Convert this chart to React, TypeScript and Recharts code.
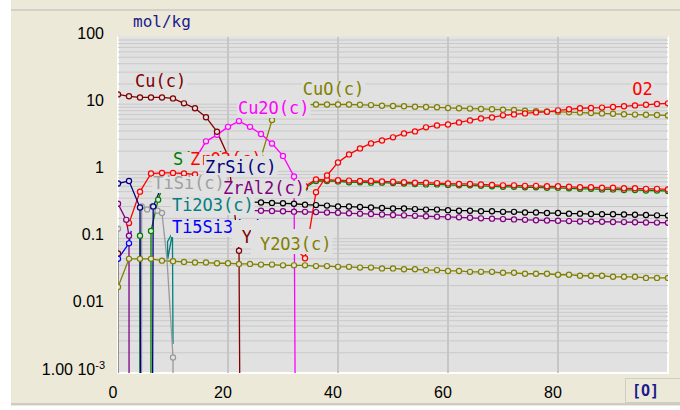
import React from 'react';
import { LineChart, Line, XAxis, YAxis, ReferenceLine, ReferenceArea, CartesianGrid } from 'recharts';

type P = { x: number; y: number; m?: number };
// Z marks an amount of zero (far below the axis), as HSC draws it
const Z = 1e-30;

const xTicks = [0, 20, 40, 60, 80];
const yTicks = [0.001, 0.01, 0.1, 1, 10, 100];
const yTickText: Record<string, string> = { '100': '100', '10': '10', '1': '1', '0.1': '0.1', '0.01': '0.01' };

const cuC: P[] = [
  { x: 0, y: 14 }, { x: 2, y: 13.1 }, { x: 4, y: 12.6 }, { x: 6, y: 12.6 }, { x: 8, y: 12.6 }, { x: 10, y: 12.2 },
  { x: 12, y: 10.3 }, { x: 14, y: 8.7 }, { x: 16, y: 6.4 }, { x: 18, y: 3.9 }, { x: 20, y: 1.7 }, { x: 22, y: 0.066 }, { x: 24, y: Z },
];
const cu2oC: P[] = [
  { x: 14, y: 1.5 }, { x: 16, y: 2.8 }, { x: 18, y: 3.5 }, { x: 20, y: 4.6 }, { x: 22, y: 5.6 }, { x: 24, y: 4.6 },
  { x: 26, y: 3.6 }, { x: 28, y: 2.6 }, { x: 30, y: 1.7 }, { x: 32, y: 0.84 }, { x: 34, y: Z },
];
const cuoC: P[] = [
  { x: 26, y: 1.6 }, { x: 28, y: 5.8 }, { x: 30, y: 8.5 }, { x: 32, y: 9.5 }, { x: 34, y: 9.8 }, { x: 36, y: 9.9 },
  { x: 38, y: 9.9 }, { x: 40, y: 9.9 }, { x: 42, y: 9.9 }, { x: 44, y: 9.8 }, { x: 46, y: 9.7 }, { x: 48, y: 9.5 },
  { x: 50, y: 9.4 }, { x: 52, y: 9.3 }, { x: 54, y: 9.2 }, { x: 56, y: 9.1 }, { x: 58, y: 9.0 }, { x: 60, y: 8.8 },
  { x: 62, y: 8.7 }, { x: 64, y: 8.6 }, { x: 66, y: 8.5 }, { x: 68, y: 8.4 }, { x: 70, y: 8.3 }, { x: 72, y: 8.2 },
  { x: 74, y: 8.0 }, { x: 76, y: 7.9 }, { x: 78, y: 7.8 }, { x: 80, y: 7.7 }, { x: 82, y: 7.6 }, { x: 84, y: 7.5 },
  { x: 86, y: 7.4 }, { x: 88, y: 7.3 }, { x: 90, y: 7.2 }, { x: 92, y: 7.1 }, { x: 94, y: 7.0 }, { x: 96, y: 6.95 },
  { x: 98, y: 6.9 }, { x: 100, y: 6.8 },
];
const o2: P[] = [
  { x: 28, y: 0.075 }, { x: 30, y: 0.078 }, { x: 32, y: 0.075 }, { x: 34, y: 0.051 }, { x: 36, y: 0.49 }, { x: 38, y: 0.87 },
  { x: 40, y: 1.36 }, { x: 42, y: 1.79 }, { x: 44, y: 2.2 }, { x: 46, y: 2.61 }, { x: 48, y: 2.89 }, { x: 50, y: 3.21 },
  { x: 52, y: 3.68 }, { x: 54, y: 3.94 }, { x: 56, y: 4.52 }, { x: 58, y: 4.84 }, { x: 60, y: 5.0 }, { x: 62, y: 5.36 },
  { x: 64, y: 5.74 }, { x: 66, y: 6.15 }, { x: 68, y: 6.36 }, { x: 70, y: 6.82 }, { x: 72, y: 7.05 }, { x: 74, y: 7.3 },
  { x: 76, y: 7.55 }, { x: 78, y: 7.7 }, { x: 80, y: 8.1 }, { x: 82, y: 8.4 }, { x: 84, y: 8.7 }, { x: 86, y: 8.8 },
  { x: 88, y: 8.9 }, { x: 90, y: 9.1 }, { x: 92, y: 9.3 }, { x: 94, y: 9.6 }, { x: 96, y: 9.8 }, { x: 98, y: 10.1 },
  { x: 100, y: 10.3 },
];
const zro2C: P[] = [
  { x: 2, y: 0.17 }, { x: 4, y: 0.5 }, { x: 6, y: 0.93 }, { x: 8, y: 0.95 }, { x: 10, y: 0.95 },
  { x: 12, y: 0.93 }, { x: 14, y: 0.9 }, { x: 16, y: 0.62 }, { x: 18, y: 0.61 }, { x: 20, y: 0.61 }, { x: 22, y: 0.6 },
  { x: 24, y: 0.6 }, { x: 26, y: 0.6 }, { x: 28, y: 0.6 }, { x: 30, y: 0.6 }, { x: 32, y: 0.6 }, { x: 34, y: 0.6 },
  { x: 36, y: 0.76 }, { x: 38, y: 0.75 }, { x: 40, y: 0.74 }, { x: 42, y: 0.73 }, { x: 44, y: 0.72 }, { x: 46, y: 0.72 },
  { x: 48, y: 0.71 }, { x: 50, y: 0.7 }, { x: 52, y: 0.69 }, { x: 54, y: 0.68 }, { x: 56, y: 0.68 }, { x: 58, y: 0.67 },
  { x: 60, y: 0.66 }, { x: 62, y: 0.65 }, { x: 64, y: 0.65 }, { x: 66, y: 0.64 }, { x: 68, y: 0.63 }, { x: 70, y: 0.62 },
  { x: 72, y: 0.62 }, { x: 74, y: 0.61 }, { x: 76, y: 0.61 }, { x: 78, y: 0.6 }, { x: 80, y: 0.6 }, { x: 82, y: 0.59 },
  { x: 84, y: 0.58 }, { x: 86, y: 0.58 }, { x: 88, y: 0.57 }, { x: 90, y: 0.57 }, { x: 92, y: 0.56 }, { x: 94, y: 0.56 },
  { x: 96, y: 0.55 }, { x: 98, y: 0.55 }, { x: 100, y: 0.54 },
];
const sio2C: P[] = [
  { x: 3.9, y: Z }, { x: 4, y: 0.11 }, { x: 4.1, y: Z }, { x: 5.9, y: Z }, { x: 6, y: 0.13 }, { x: 7.3, y: 0.38 },
  { x: 8, y: 0.55, m: 0 }, { x: 10, y: 0.57 }, { x: 14, y: 0.57 }, { x: 20, y: 0.57 }, { x: 26, y: 0.57 }, { x: 34, y: 0.57 },
  { x: 36, y: 0.72 }, { x: 38, y: 0.72 }, { x: 40, y: 0.71 }, { x: 42, y: 0.69 }, { x: 44, y: 0.69 }, { x: 46, y: 0.68 },
  { x: 48, y: 0.68 }, { x: 50, y: 0.67 }, { x: 52, y: 0.66 }, { x: 54, y: 0.65 }, { x: 56, y: 0.64 }, { x: 58, y: 0.64 },
  { x: 60, y: 0.63 }, { x: 62, y: 0.62 }, { x: 64, y: 0.62 }, { x: 66, y: 0.61 }, { x: 68, y: 0.6 }, { x: 70, y: 0.59 },
  { x: 72, y: 0.59 }, { x: 74, y: 0.58 }, { x: 76, y: 0.58 }, { x: 78, y: 0.57 }, { x: 80, y: 0.57 }, { x: 82, y: 0.56 },
  { x: 84, y: 0.55 }, { x: 86, y: 0.55 }, { x: 88, y: 0.54 }, { x: 90, y: 0.54 }, { x: 92, y: 0.53 }, { x: 94, y: 0.53 },
  { x: 96, y: 0.52 }, { x: 98, y: 0.52 }, { x: 100, y: 0.51 },
];
const zrsiC: P[] = [
  { x: 0, y: 0.66 }, { x: 2, y: 0.72 }, { x: 4, y: 0.29 }, { x: 5, y: Z }, { x: 5.2, y: Z }, { x: 6.4, y: 0.3 },
  { x: 8, y: 0.62 }, { x: 10, y: 0.6 }, { x: 14, y: 0.6 }, { x: 18, y: 0.58 }, { x: 20, y: 0.55 },
];
const tisiC: P[] = [
  { x: 0, y: 0.14 }, { x: 0.6, y: Z }, { x: 4, y: Z }, { x: 4.3, y: 0.3 }, { x: 5.3, y: 0.27 }, { x: 6.2, y: 0.3 },
  { x: 7.2, y: 0.26 }, { x: 8, y: 0.24 }, { x: 8.5, y: 0.1, m: 0 }, { x: 8.9, y: 0.05, m: 0 }, { x: 9.2, y: 0.02, m: 0 },
  { x: 9.6, y: 0.006, m: 0 }, { x: 10, y: 0.0017 }, { x: 10.3, y: Z },
];
const ti2o3C: P[] = [
  { x: 10.5, y: 0.15, m: 0 }, { x: 9, y: 0.09, m: 0 }, { x: 9.05, y: 0.05, m: 0 }, { x: 9.9, y: 0.12, m: 0 }, { x: 10, y: 0.0027, m: 0 },
];
const ti5si3C: P[] = [{ x: 0, y: 0.05 }, { x: 2, y: 0.085 }, { x: 2.4, y: 0.13, m: 0 }];
const zral2Left: P[] = [{ x: 0, y: 0.33 }, { x: 1.5, y: 0.19 }, { x: 2, y: 0.11 }, { x: 2.15, y: Z }];
const zral2C: P[] = [
  { x: 20, y: 0.27 }, { x: 22, y: 0.265 }, { x: 24, y: 0.262 }, { x: 26, y: 0.26 }, { x: 28, y: 0.258 }, { x: 30, y: 0.255 },
  { x: 32, y: 0.252 }, { x: 34, y: 0.25 }, { x: 36, y: 0.248 }, { x: 38, y: 0.245 }, { x: 40, y: 0.242 }, { x: 42, y: 0.238 },
  { x: 44, y: 0.235 }, { x: 46, y: 0.232 }, { x: 48, y: 0.228 }, { x: 50, y: 0.225 }, { x: 52, y: 0.222 }, { x: 54, y: 0.218 },
  { x: 56, y: 0.215 }, { x: 58, y: 0.212 }, { x: 60, y: 0.21 }, { x: 62, y: 0.207 }, { x: 64, y: 0.204 }, { x: 66, y: 0.2 },
  { x: 68, y: 0.198 }, { x: 70, y: 0.195 }, { x: 72, y: 0.193 }, { x: 74, y: 0.19 }, { x: 76, y: 0.188 }, { x: 78, y: 0.186 },
  { x: 80, y: 0.184 }, { x: 82, y: 0.182 }, { x: 84, y: 0.18 }, { x: 86, y: 0.179 }, { x: 88, y: 0.178 }, { x: 90, y: 0.177 },
  { x: 92, y: 0.176 }, { x: 94, y: 0.175 }, { x: 96, y: 0.174 }, { x: 98, y: 0.173 }, { x: 100, y: 0.172 },
];
const blackSeries: P[] = [
  { x: 20, y: 0.36 }, { x: 22, y: 0.355 }, { x: 24, y: 0.35 }, { x: 26, y: 0.345 }, { x: 28, y: 0.34 }, { x: 30, y: 0.335 },
  { x: 32, y: 0.33 }, { x: 34, y: 0.32 }, { x: 36, y: 0.315 }, { x: 38, y: 0.31 }, { x: 40, y: 0.3 }, { x: 42, y: 0.3 },
  { x: 44, y: 0.295 }, { x: 46, y: 0.29 }, { x: 48, y: 0.285 }, { x: 50, y: 0.28 }, { x: 52, y: 0.28 }, { x: 54, y: 0.275 },
  { x: 56, y: 0.27 }, { x: 58, y: 0.27 }, { x: 60, y: 0.265 }, { x: 62, y: 0.26 }, { x: 64, y: 0.26 }, { x: 66, y: 0.255 },
  { x: 68, y: 0.255 }, { x: 70, y: 0.25 }, { x: 72, y: 0.25 }, { x: 74, y: 0.245 }, { x: 76, y: 0.245 }, { x: 78, y: 0.24 },
  { x: 80, y: 0.24 }, { x: 82, y: 0.235 }, { x: 84, y: 0.235 }, { x: 86, y: 0.232 }, { x: 88, y: 0.23 }, { x: 90, y: 0.23 },
  { x: 92, y: 0.228 }, { x: 94, y: 0.226 }, { x: 96, y: 0.224 }, { x: 98, y: 0.222 }, { x: 100, y: 0.22 },
];
const yC: P[] = [{ x: 0, y: 0.06 }, { x: 0.3, y: Z }];
const y2o3C: P[] = [
  { x: 0, y: 0.019 }, { x: 2, y: 0.05 }, { x: 4, y: 0.05 }, { x: 6, y: 0.05 }, { x: 8, y: 0.047 }, { x: 10, y: 0.046 },
  { x: 12, y: 0.045 }, { x: 14, y: 0.044 }, { x: 16, y: 0.044 }, { x: 18, y: 0.043 }, { x: 20, y: 0.043 }, { x: 22, y: 0.042 },
  { x: 24, y: 0.042 }, { x: 26, y: 0.041 }, { x: 28, y: 0.041 }, { x: 30, y: 0.04 }, { x: 32, y: 0.04 }, { x: 34, y: 0.04 },
  { x: 36, y: 0.039 }, { x: 38, y: 0.039 }, { x: 40, y: 0.038 }, { x: 42, y: 0.038 }, { x: 44, y: 0.037 }, { x: 46, y: 0.037 },
  { x: 48, y: 0.036 }, { x: 50, y: 0.036 }, { x: 52, y: 0.035 }, { x: 54, y: 0.035 }, { x: 56, y: 0.034 }, { x: 58, y: 0.034 },
  { x: 60, y: 0.033 }, { x: 62, y: 0.033 }, { x: 64, y: 0.032 }, { x: 66, y: 0.032 }, { x: 68, y: 0.032 }, { x: 70, y: 0.031 },
  { x: 72, y: 0.031 }, { x: 74, y: 0.03 }, { x: 76, y: 0.03 }, { x: 78, y: 0.03 }, { x: 80, y: 0.029 }, { x: 82, y: 0.029 },
  { x: 84, y: 0.028 }, { x: 86, y: 0.028 }, { x: 88, y: 0.028 }, { x: 90, y: 0.027 }, { x: 92, y: 0.027 }, { x: 94, y: 0.027 },
  { x: 96, y: 0.026 }, { x: 98, y: 0.026 }, { x: 100, y: 0.026 },
];

const series: { key: string; color: string; data: P[] }[] = [
  { key: 'y2o3', color: '#808000', data: y2o3C },
  { key: 'black', color: '#000000', data: blackSeries },
  { key: 'zral2', color: '#800080', data: zral2C },
  { key: 'sio2', color: '#008000', data: sio2C },
  { key: 'zro2', color: '#ff0000', data: zro2C },
  { key: 'zral2l', color: '#800080', data: zral2Left },
  { key: 'cuo', color: '#808000', data: cuoC },
  { key: 'o2', color: '#ff0000', data: o2 },
  { key: 'cu2o', color: '#ff00ff', data: cu2oC },
  { key: 'cu', color: '#800000', data: cuC },
  { key: 'y', color: '#800000', data: yC },
  { key: 'ti5si3', color: '#0000ff', data: ti5si3C },
  { key: 'ti2o3', color: '#008080', data: ti2o3C },
  { key: 'tisi', color: '#999999', data: tisiC },
  { key: 'zrsi', color: '#000080', data: zrsiC },
];

// curve labels (data coordinates), in drawing order: later ones cover earlier ones
const labels: { text: string; x: number; y: number; color: string }[] = [
  { text: 'SiO2(c)', x: 10.0, y: 1.245, color: '#008000' },
  { text: 'ZrO2(c)', x: 13.1, y: 1.245, color: '#ff0000' },
  { text: 'ZrSi(c)', x: 15.8, y: 0.947, color: '#000080' },
  { text: 'TiSi(c)', x: 6.4, y: 0.547, color: '#a0a0a0' },
  { text: 'ZrAl2(c)', x: 19.1, y: 0.461, color: '#800080' },
  { text: 'Ti2O3(c)', x: 9.8, y: 0.257, color: '#008080' },
  { text: 'Ti5Si3(c)', x: 9.8, y: 0.121, color: '#0000ff' },
  { text: 'Y(c)', x: 22.5, y: 0.086, color: '#800000' },
  { text: 'Y2O3(c)', x: 25.8, y: 0.0676, color: '#808000' },
  { text: 'Cu(c)', x: 3.1, y: 18.0, color: '#800000' },
  { text: 'Cu2O(c)', x: 21.8, y: 7.15, color: '#ff00ff' },
  { text: 'CuO(c)', x: 33.6, y: 13.7, color: '#808000' },
  { text: 'O2', x: 93.5, y: 13.7, color: '#ff0000' },
];
// extra margin of the opaque box behind some labels [left, top]
const labelPad: Record<string, [number, number]> = {
  'ZrO2(c)': [6, 0],
  'ZrSi(c)': [1, 4],
  'Y(c)': [10, 10],
  'Y2O3(c)': [9, 8],
};

const BG = '#e1e1e1';
const MONO = '"DejaVu Sans Mono", monospace';
const SANS = '"Liberation Sans", Arial, sans-serif';

// chart frame (same as the margins/axis sizes given to LineChart below)
const W = 680, H = 410, PL = 118, PR = 12, PT = 37, XH = 37;
const X_DOM: [number, number] = [0, 100];
const Y_DOM: [number, number] = [0.001, 100];
const toPx = (x: number) => PL + ((x - X_DOM[0]) / (X_DOM[1] - X_DOM[0])) * (W - PL - PR);
const toPy = (v: number) =>
  PT + ((Math.log10(Y_DOM[1]) - Math.log10(v)) / (Math.log10(Y_DOM[1]) - Math.log10(Y_DOM[0]))) * (H - PT - XH);

const gridY: number[] = [];
[0.001, 0.01, 0.1, 1, 10].forEach((d) => {
  for (let k = 2; k <= 10; k++) gridY.push(d * k);
});

const makeDot = (color: string) => (props: any) => {
  const { cx, cy, payload, index } = props;
  if (!payload || cx == null || cy == null || payload.y < 0.001 || payload.m === 0) {
    return <g key={`e${index}`} />;
  }
  return <circle key={`d${index}`} cx={cx} cy={cy} r={2.6} fill={BG} stroke={color} strokeWidth={1.2} />;
};

const YTick = (props: any) => {
  const v = props.payload.value;
  const y = props.y + 1.5;
  if (v === 0.001) {
    return (
      <text x={105} y={y} textAnchor="end" fontSize={16} fontFamily={SANS} fill="#000">
        1.00 10
        <tspan fontSize={11} dy={-6}>-3</tspan>
      </text>
    );
  }
  return (
    <text x={104} y={y} textAnchor="end" fontSize={16} fontFamily={SANS} fill="#000">
      {yTickText[String(v)]}
    </text>
  );
};

const XTick = (props: any) => (
  <text x={props.x - 5} y={398} textAnchor="middle" fontSize={16} fontFamily={SANS} fill="#000">
    {props.payload.value}
  </text>
);

export default function App() {
  return (
    <div style={{ position: 'absolute', left: 0, top: 0, width: W, height: H, background: '#fff', overflow: 'hidden' }}>
      <svg style={{ position: 'absolute', left: 0, top: 0 }} width={W} height={H}>
        <rect x={11} y={0} width={669} height={406} fill="#ece9d8" />
        <rect x={11} y={9} width={669} height={2} fill="#d2d0c8" />
        <rect x={11} y={403} width={669} height={2} fill="#cdcbc2" />
        <rect x={625.5} y={378.5} width={60} height={24} fill="none" stroke="#d0cdc2" />
        <text x={133} y={27} fill="#1a1a8c" fontFamily={MONO} fontSize={16}>mol/kg</text>
        <text x={632} y={396} fill="#1a1a8c" fontFamily={MONO} fontSize={15} fontWeight="bold">[O]</text>
      </svg>
      <div style={{ position: 'absolute', left: 0, top: 0 }}>
        <LineChart width={W} height={H} margin={{ top: PT, right: PR, bottom: 0, left: 0 }}>
          <CartesianGrid fill={BG} horizontal={false} vertical={false} />
          <XAxis type="number" dataKey="x" domain={X_DOM} ticks={xTicks} height={XH} axisLine={false} tickLine={false} tick={XTick} allowDataOverflow />
          <YAxis type="number" scale="log" domain={Y_DOM} ticks={yTicks} width={PL} axisLine={false} tickLine={false} tick={YTick} allowDataOverflow />
          {gridY.map((g) => (
            <ReferenceLine key={`gy${g}`} y={g} stroke="#c9c9c9" strokeWidth={1} />
          ))}
          {xTicks.slice(1).map((g) => (
            <ReferenceLine key={`gx${g}`} x={g} stroke="#c6c6c6" strokeWidth={2} />
          ))}
          {series.map((s) => (
            <Line
              key={s.key}
              data={s.data}
              dataKey="y"
              type="linear"
              stroke={s.color}
              strokeWidth={1.3}
              dot={makeDot(s.color)}
              activeDot={false}
              isAnimationActive={false}
              legendType="none"
            />
          ))}
          <ReferenceArea x1={0} x2={100} y1={0.001} y2={100} fill="none" stroke="#ffffff" strokeWidth={2} fillOpacity={0} />
        </LineChart>
      </div>
      <svg style={{ position: 'absolute', left: 0, top: 0, pointerEvents: 'none' }} width={W} height={H}>
        {labels.map((l) => {
          const cx = toPx(l.x);
          const cy = toPy(l.y);
          const [pl, pt] = labelPad[l.text] || [1, 0];
          return (
            <g key={l.text}>
              <rect x={cx - pl} y={cy - 13 - pt} width={l.text.length * 10.23 + 1 + pl} height={17 + pt} fill={BG} />
              <text x={cx} y={cy} fill={l.color} fontFamily={MONO} fontSize={17}>
                {l.text}
              </text>
            </g>
          );
        })}
      </svg>
    </div>
  );
}
